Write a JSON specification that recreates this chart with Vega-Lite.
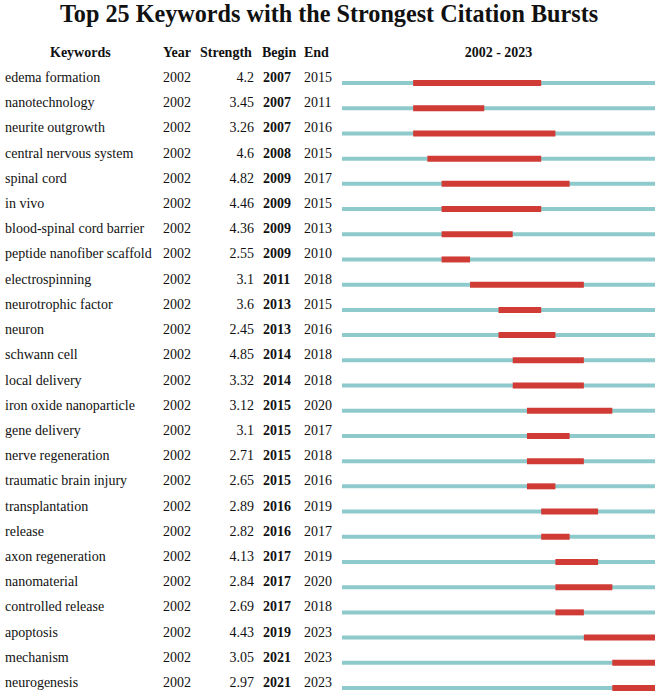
{
  "$schema": "https://vega.github.io/schema/vega-lite/v6.json",
  "padding": {"left": 0, "top": 2, "right": 0, "bottom": 0},
  "background": "white",
  "title": {"text": "Top 25 Keywords with the Strongest Citation Bursts", "fontSize": 24.2, "font": "Liberation Serif", "fontWeight": "bold", "color": "#111", "anchor": "middle", "offset": 0, "baseline": "alphabetic", "frame": "bounds"},
  "config": {
    "view": {"stroke": null},
    "font": "Liberation Serif",
    "title": {"fontSize": 14, "fontWeight": "bold", "font": "Liberation Serif", "color": "#111", "baseline": "alphabetic", "frame": "group"},
    "text": {"font": "Liberation Serif", "fontSize": 14, "color": "#111"}
  },
  "spacing": 0,
  "data": {"values": [
    {"Keyword": "edema formation", "Year": "2002", "Strength": "4.2", "Begin": 2007, "End": 2015},
    {"Keyword": "nanotechnology", "Year": "2002", "Strength": "3.45", "Begin": 2007, "End": 2011},
    {"Keyword": "neurite outgrowth", "Year": "2002", "Strength": "3.26", "Begin": 2007, "End": 2016},
    {"Keyword": "central nervous system", "Year": "2002", "Strength": "4.6", "Begin": 2008, "End": 2015},
    {"Keyword": "spinal cord", "Year": "2002", "Strength": "4.82", "Begin": 2009, "End": 2017},
    {"Keyword": "in vivo", "Year": "2002", "Strength": "4.46", "Begin": 2009, "End": 2015},
    {"Keyword": "blood-spinal cord barrier", "Year": "2002", "Strength": "4.36", "Begin": 2009, "End": 2013},
    {"Keyword": "peptide nanofiber scaffold", "Year": "2002", "Strength": "2.55", "Begin": 2009, "End": 2010},
    {"Keyword": "electrospinning", "Year": "2002", "Strength": "3.1", "Begin": 2011, "End": 2018},
    {"Keyword": "neurotrophic factor", "Year": "2002", "Strength": "3.6", "Begin": 2013, "End": 2015},
    {"Keyword": "neuron", "Year": "2002", "Strength": "2.45", "Begin": 2013, "End": 2016},
    {"Keyword": "schwann cell", "Year": "2002", "Strength": "4.85", "Begin": 2014, "End": 2018},
    {"Keyword": "local delivery", "Year": "2002", "Strength": "3.32", "Begin": 2014, "End": 2018},
    {"Keyword": "iron oxide nanoparticle", "Year": "2002", "Strength": "3.12", "Begin": 2015, "End": 2020},
    {"Keyword": "gene delivery", "Year": "2002", "Strength": "3.1", "Begin": 2015, "End": 2017},
    {"Keyword": "nerve regeneration", "Year": "2002", "Strength": "2.71", "Begin": 2015, "End": 2018},
    {"Keyword": "traumatic brain injury", "Year": "2002", "Strength": "2.65", "Begin": 2015, "End": 2016},
    {"Keyword": "transplantation", "Year": "2002", "Strength": "2.89", "Begin": 2016, "End": 2019},
    {"Keyword": "release", "Year": "2002", "Strength": "2.82", "Begin": 2016, "End": 2017},
    {"Keyword": "axon regeneration", "Year": "2002", "Strength": "4.13", "Begin": 2017, "End": 2019},
    {"Keyword": "nanomaterial", "Year": "2002", "Strength": "2.84", "Begin": 2017, "End": 2020},
    {"Keyword": "controlled release", "Year": "2002", "Strength": "2.69", "Begin": 2017, "End": 2018},
    {"Keyword": "apoptosis", "Year": "2002", "Strength": "4.43", "Begin": 2019, "End": 2023},
    {"Keyword": "mechanism", "Year": "2002", "Strength": "3.05", "Begin": 2021, "End": 2023},
    {"Keyword": "neurogenesis", "Year": "2002", "Strength": "2.97", "Begin": 2021, "End": 2023}
  ]},
  "hconcat": [
    {
      "width": 160, "height": 605,
      "title": {"text": "Keywords", "anchor": "start", "dx": 50, "offset": 11},
      "mark": {"type": "text", "align": "left", "baseline": "middle", "dy": -5},
      "encoding": {
        "y": {"field": "Keyword", "type": "nominal", "sort": null, "scale": {"type": "point", "padding": 0}, "axis": null},
        "x": {"value": 5},
        "text": {"field": "Keyword", "type": "nominal"}
      }
    },
    {
      "width": 40, "height": 605,
      "title": {"text": "Year", "anchor": "start", "dx": 3, "offset": 11},
      "mark": {"type": "text", "align": "left", "baseline": "middle", "dy": -5},
      "encoding": {
        "y": {"field": "Keyword", "type": "nominal", "sort": null, "scale": {"type": "point", "padding": 0}, "axis": null},
        "x": {"value": 3},
        "text": {"field": "Year", "type": "nominal"}
      }
    },
    {
      "width": 58, "height": 605,
      "title": {"text": "Strength", "anchor": "start", "dx": 0, "offset": 11},
      "mark": {"type": "text", "align": "right", "baseline": "middle", "dy": -5},
      "encoding": {
        "y": {"field": "Keyword", "type": "nominal", "sort": null, "scale": {"type": "point", "padding": 0}, "axis": null},
        "x": {"value": 54},
        "text": {"field": "Strength", "type": "nominal"}
      }
    },
    {
      "width": 44, "height": 605,
      "title": {"text": "Begin", "anchor": "start", "dx": 4, "offset": 11},
      "mark": {"type": "text", "align": "left", "baseline": "middle", "dy": -5, "fontWeight": "bold"},
      "encoding": {
        "y": {"field": "Keyword", "type": "nominal", "sort": null, "scale": {"type": "point", "padding": 0}, "axis": null},
        "x": {"value": 5},
        "text": {"field": "Begin", "type": "nominal"}
      }
    },
    {
      "width": 38, "height": 605,
      "title": {"text": "End", "anchor": "start", "dx": 2, "offset": 11},
      "mark": {"type": "text", "align": "left", "baseline": "middle", "dy": -5},
      "encoding": {
        "y": {"field": "Keyword", "type": "nominal", "sort": null, "scale": {"type": "point", "padding": 0}, "axis": null},
        "x": {"value": 2},
        "text": {"field": "End", "type": "nominal"}
      }
    },
    {
      "width": 313, "height": 605,
      "title": {"text": "2002 - 2023", "anchor": "middle", "offset": 20},
      "transform": [{"calculate": "datum.End + 1", "as": "EndEdge"}],
      "encoding": {
        "y": {"field": "Keyword", "type": "nominal", "sort": null, "scale": {"type": "point", "padding": 0}, "axis": null}
      },
      "layer": [
        {
          "mark": {"type": "rule", "strokeWidth": 4, "color": "#8ECACB", "strokeCap": "butt"},
          "encoding": {
            "x": {"datum": 2002, "type": "quantitative", "scale": {"domain": [2002, 2024], "nice": false, "zero": false}, "axis": null},
            "x2": {"datum": 2024}
          }
        },
        {
          "mark": {"type": "rule", "strokeWidth": 6, "color": "#D13B36", "strokeCap": "butt"},
          "encoding": {
            "x": {"field": "Begin", "type": "quantitative", "scale": {"domain": [2002, 2024], "nice": false, "zero": false}, "axis": null},
            "x2": {"field": "EndEdge"}
          }
        }
      ]
    }
  ]
}
